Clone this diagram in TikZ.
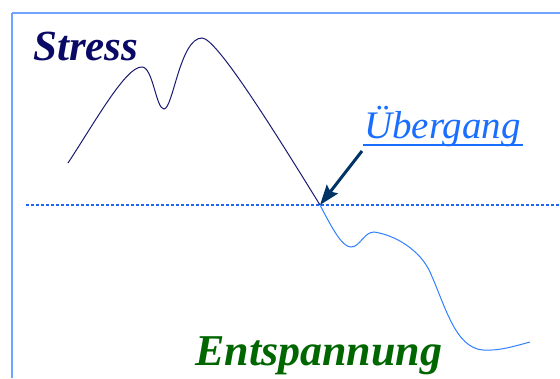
\documentclass[tikz,border=0pt]{standalone}
\usepackage{fontspec}
\setmainfont{Liberation Serif}
\newfontfamily\tmsfont{Liberation Serif}
\usetikzlibrary{arrows.meta}
\definecolor{framec}{HTML}{6FA4FF}
\definecolor{navyc}{HTML}{0A0A66}
\definecolor{curvea}{HTML}{1A1A70}
\definecolor{curveb}{HTML}{2F80FF}
\definecolor{dashc}{HTML}{1F66F0}
\definecolor{ueberc}{HTML}{1A6EFF}
\definecolor{greenc}{HTML}{006600}
\definecolor{arrowc}{HTML}{003366}
\tikzset{
  lbl/.style={inner sep=0pt, anchor=base west},
  framel/.style={draw=framec},
}
\begin{document}
\begin{tikzpicture}[x=1pt,y=-1pt]
\useasboundingbox (0,0) rectangle (560,378);
% frame
\draw[framel, line width=2.2pt] (12,13) -- (12,378);
\draw[framel, line width=1.8pt] (12,13) -- (560,13);
% dashed line
\coordinate (cross) at (320,205);
\coordinate (dl) at (26,205);
\coordinate (dr) at (560,205);
\draw[dashc, line width=1.1pt, dash pattern=on 3pt off 2pt] (dl) -- (dr);
% stress curve
\draw[curvea, line width=1pt] (68,163) .. controls (95,122) and (126,66) .. (142,67)
  .. controls (153,67) and (156,109) .. (164,109)
  .. controls (173,109) and (180,38) .. (202,38)
  .. controls (216,38) and (270,124) .. (cross);
% relaxation curve
\draw[curveb, line width=1pt] (cross) .. controls (332,228) and (342,247) .. (351,247)
  .. controls (360,247) and (364,232) .. (374,232)
  .. controls (395,235) and (420,250) .. (430,272)
  .. controls (445,305) and (455,348) .. (483,350)
  .. controls (500,351) and (515,346) .. (530,342);
% labels
\node[lbl, text=navyc, font={\tmsfont\fontsize{43}{43}\selectfont\bfseries\itshape}] (stress) at (33,60) {Stress};
\node[lbl, text=greenc, font={\tmsfont\fontsize{44}{44}\selectfont\bfseries\itshape}] (entsp) at (195,365) {Entspannung};
\node[lbl, text=ueberc, font={\tmsfont\fontsize{39}{39}\selectfont\itshape}] (ueber) at (364,138) {Übergang};
\draw[ueberc, line width=1.6pt] (363,145) -- (523,145);
\coordinate (astart) at (362,151);
\draw[arrowc, line width=3pt, -{Stealth[length=20pt,width=14pt,inset=3pt]}] (astart) -- (cross);
\end{tikzpicture}
\end{document}
